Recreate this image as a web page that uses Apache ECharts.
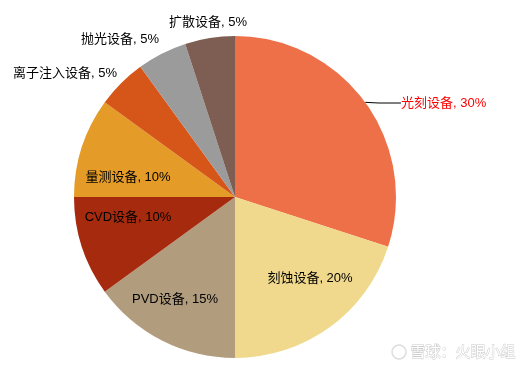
<!DOCTYPE html>
<html><head><meta charset="utf-8">
<script src="https://cdn.jsdelivr.net/npm/echarts@6/dist/echarts.min.js"></script>
<style>html,body{margin:0;padding:0;background:#fff}#c{width:523px;height:370px}</style>
</head><body><div id="c"></div>
<script>
const categories = ['光刻设备','刻蚀设备','PVD设备','CVD设备','量测设备','离子注入设备','抛光设备','扩散设备'];
const values = [30, 20, 15, 10, 10, 5, 5, 5];
const colors = ['#EE7049','#F0D98C','#B29C7E','#A52A0E','#E49B27','#D65519','#9B9B9B','#7E5E52'];
// label anchor positions (layout only)
const labelPos = [[401,103,'left'],[310,278],[175,299],[128,217],[128,177],[65,73],[120,39],[208,22]];

const chart = echarts.init(document.getElementById('c'));
const font = 'Liberation Sans, Arial, Noto Sans CJK SC';
chart.setOption({
  animation:false,
  series:[{
    type:'pie',
    center:[235,197],
    radius:[0,161],
    startAngle:90,
    clockwise:true,
    avoidLabelOverlap:false,
    data: categories.map((n,i)=>({
      name:n, value:values[i],
      itemStyle:{color:colors[i]},
      label: i===0 ? {position:'outside', color:'#FF0000'} : {position:'inside', color:'#000'},
      labelLine: i===0 ? {show:true, length:6, length2:22, lineStyle:{color:'#000',width:1}} : {show:false}
    })),
    label:{
      formatter: p => p.name + ', ' + p.value + '%',
      fontFamily: font, fontSize:13
    },
    labelLayout: function(p){
      const pos = labelPos[p.dataIndex];
      return {x:pos[0], y:pos[1], align:pos[2]||'center', verticalAlign:'middle'};
    }
  }],
  graphic:[
    {type:'circle', shape:{cx:399,cy:352,r:7}, style:{fill:'none',stroke:'#ddd',lineWidth:1.5}},
    {type:'text', left:410, top:343, style:{text:'雪球：火眼小组', font:'15px Noto Sans CJK SC', fill:'#fff', stroke:'#ccc', lineWidth:1}}
  ]
});
</script></body></html>
